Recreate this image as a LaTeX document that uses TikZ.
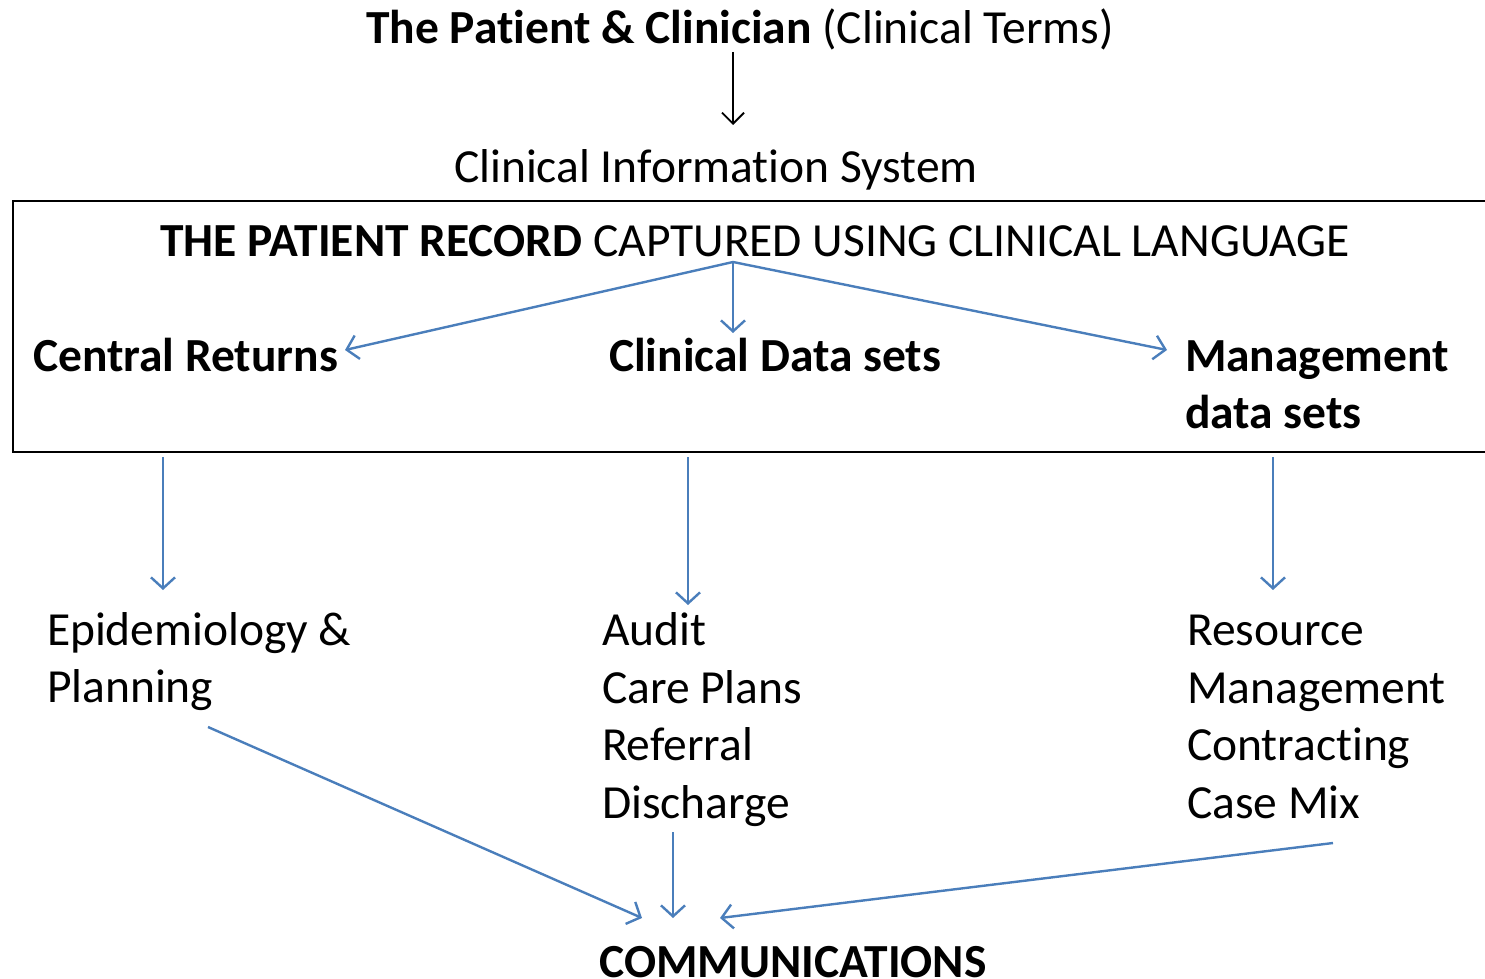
\documentclass[tikz,border=0pt]{standalone}
\usepackage{fontspec}
\setmainfont{Carlito}[Ligatures=CommonOff]
\usetikzlibrary{arrows.meta}
\definecolor{arrowblue}{RGB}{74,126,187}
\tikzset{
  txt/.style={inner sep=0pt, outer sep=0pt, anchor=base west, font=\fontsize{47.5}{57.5}\selectfont},
  btxt/.style={txt, font=\fontsize{47.5}{57.5}\selectfont\bfseries},
  barrow/.style={draw=arrowblue, line width=2.4pt, -{Straight Barb[length=11pt,width=24pt,line width=2.4pt]}},
  karrow/.style={draw=black, line width=1.8pt, -{Straight Barb[length=11pt,width=22pt,line width=1.8pt]}}
}
\begin{document}
\begin{tikzpicture}[x=1pt,y=-1pt]
\useasboundingbox (0,0) rectangle (1485,979);
% title
\node[txt, anchor=base] (title) at (740,44) {\textbf{The Patient \& Clinician} (Clinical Terms)};
\coordinate (t1) at (733,52);
\coordinate (t2) at (733,125);
\draw[karrow] (t1) -- (t2);
\node[txt, anchor=base] (cis) at (716,182) {Clinical Information System};
% box
\draw[line width=1.8pt] (1495,201) -- (13,201) -- (13,452) -- (1495,452);
\node[txt, anchor=base] (record) at (755,256) {\textbf{THE PATIENT RECORD} CAPTURED USING CLINICAL LANGUAGE};
\coordinate (hub) at (733,262);
\node[btxt] (central) at (33,371) {Central Returns};
\node[btxt] (cds) at (609,371) {Clinical Data sets};
\node[btxt] (mds1) at (1185,371) {Management};
\node[btxt] (mds2) at (1185,428) {data sets};
\coordinate (cr) at (345,350);
\coordinate (cd) at (733,333);
\coordinate (md) at (1167,350);
\draw[barrow] (hub) -- (cr);
\draw[barrow] (hub) -- (cd);
\draw[barrow] (hub) -- (md);
% down arrows
\coordinate (a1s) at (163,457); \coordinate (a1e) at (163,590);
\coordinate (a2s) at (688,457); \coordinate (a2e) at (688,605);
\coordinate (a3s) at (1273,457); \coordinate (a3e) at (1273,590);
\draw[barrow] (a1s) -- (a1e);
\draw[barrow] (a2s) -- (a2e);
\draw[barrow] (a3s) -- (a3e);
% lower texts
\node[txt] (epi1) at (47,645) {Epidemiology \&};
\node[txt] (epi2) at (47,702) {Planning};
\node[txt] (aud1) at (602,645) {Audit};
\node[txt] (aud2) at (602,703) {Care Plans};
\node[txt] (aud3) at (602,760) {Referral};
\node[txt] (aud4) at (602,818) {Discharge};
\node[txt] (res1) at (1187,645) {Resource};
\node[txt] (res2) at (1187,703) {Management};
\node[txt] (res3) at (1187,760) {Contracting};
\node[txt] (res4) at (1187,818) {Case Mix};
% to communications
\node[btxt, anchor=base] (comm) at (793,977) {COMMUNICATIONS};
\coordinate (e1s) at (208,727); \coordinate (e1e) at (642,918);
\coordinate (e2s) at (673,832); \coordinate (e2e) at (673,918);
\coordinate (e3s) at (1333,843); \coordinate (e3e) at (720,918);
\draw[barrow] (e1s) -- (e1e);
\draw[barrow] (e2s) -- (e2e);
\draw[barrow] (e3s) -- (e3e);
\end{tikzpicture}
\end{document}
